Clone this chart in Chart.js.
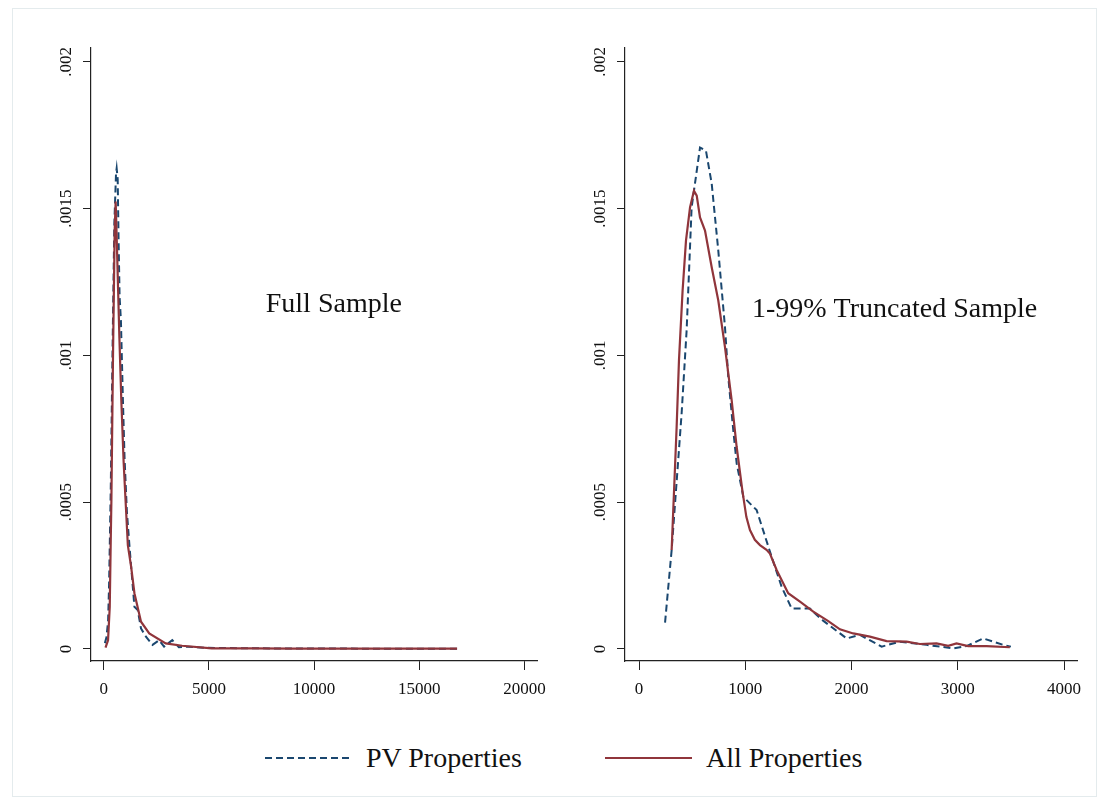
<!DOCTYPE html>
<html lang="en">
<head>
<meta charset="UTF-8">
<title>Kernel Density: PV vs All Properties</title>
<script src="https://cdn.jsdelivr.net/npm/chart.js@4.4.0/dist/chart.umd.min.js"></script>
<style>
  body { margin: 0; background: #fff; font-family: 'Liberation Serif', serif; }
  #frame { position: absolute; left: 12px; top: 8px; width: 1085px; height: 789px; border: 1px solid #e4ebed; box-sizing: border-box; }
  canvas { position: absolute; top: 0; }
  #leftChart { left: 0; }
  #rightChart { left: 555px; }
  .key { position: absolute; top: 740px; height: 36px; display: flex; align-items: center; font-size: 28px; color: #111; white-space: nowrap; }
  .key svg { margin-right: 14px; }
</style>
</head>
<body>
<div id="frame"></div>
<canvas id="leftChart" width="555" height="720"></canvas>
<canvas id="rightChart" width="554" height="720"></canvas>
<div class="key" style="left:265px">
  <svg width="87" height="6"><line x1="0" y1="3" x2="87" y2="3" stroke="#1a476f" stroke-width="2" stroke-dasharray="7 4"/></svg>PV Properties
</div>
<div class="key" style="left:605px">
  <svg width="87" height="6"><line x1="0" y1="3" x2="87" y2="3" stroke="#90353b" stroke-width="2.2"/></svg>All Properties
</div>

<script>
  // Full sample densities
  const fullPvX = [50, 125, 203, 250, 330, 420, 500, 580, 610, 660, 700, 750, 812, 907, 986, 1095, 1220, 1455, 1612, 1768, 2003, 2316, 2630, 2864, 3255, 3568, 4040, 4820, 6000, 8000, 10000, 12500, 15000, 16800];
  const fullPvY = [0.00002, 0.00004, 0.000095, 0.00022, 0.00055, 0.00105, 0.00145, 0.00162, 0.001637, 0.0016, 0.0014, 0.0012, 0.00112, 0.00085, 0.00065, 0.00047, 0.00035, 0.000144, 0.000133, 0.00007, 0.000042, 0.000014, 0.00003, 0.000008, 0.00003, 0.000006, 0.000008, 0.000004, 0.000003, 0.000002, 0.000002, 0.000001, 0.000001, 0.000001];
  const fullAllX = [80, 200, 282, 329, 360, 437, 516, 563, 620, 680, 740, 830, 940, 1033, 1142, 1299, 1455, 1768, 2160, 2942, 3720, 5130, 7000, 9000, 11000, 13000, 15000, 16800];
  const fullAllY = [0.000005, 0.00003, 0.000144, 0.00037, 0.000507, 0.001, 0.001425, 0.001524, 0.00138, 0.00122, 0.00106, 0.00085, 0.00064, 0.000507, 0.000354, 0.00028, 0.00019, 0.000093, 0.000053, 0.000019, 0.000011, 0.000002, 0.000002, 0.000001, 0.000001, 0.000001, 0.000001, 0.000001];

  // 1-99% truncated sample densities
  const truncPvX = [245, 307, 401, 448, 495, 574, 630, 684, 746, 809, 840, 887, 919, 982, 1107, 1248, 1342, 1436, 1608, 1720, 1954, 2079, 2283, 2455, 2706, 2957, 3083, 3239, 3427, 3500];
  const truncPvY = [0.00009, 0.000337, 0.000803, 0.001085, 0.001504, 0.001708, 0.001697, 0.001585, 0.001357, 0.001096, 0.000926, 0.000745, 0.000632, 0.000518, 0.000473, 0.000314, 0.000212, 0.000138, 0.000138, 0.0001, 0.000036, 0.000048, 0.000008, 0.000025, 0.000014, 0.000002, 0.00001, 0.000036, 0.000014, 0.000008];
  const truncAllX = [307, 354, 376, 410, 442, 480, 517, 543, 574, 621, 684, 746, 809, 872, 919, 972, 1010, 1044, 1090, 1138, 1200, 1232, 1295, 1404, 1515, 1640, 1781, 1891, 2016, 2173, 2330, 2518, 2643, 2800, 2910, 2988, 3098, 3271, 3490];
  const truncAllY = [0.000337, 0.000756, 0.000983, 0.00122, 0.001391, 0.001504, 0.001561, 0.001544, 0.00147, 0.001425, 0.0013, 0.001187, 0.001028, 0.000847, 0.000688, 0.000541, 0.00045, 0.000405, 0.000372, 0.000354, 0.000338, 0.000325, 0.000269, 0.00019, 0.000161, 0.000127, 0.000095, 0.000067, 0.000053, 0.000042, 0.000027, 0.000025, 0.000017, 0.000019, 0.000011, 0.000019, 0.00001, 0.00001, 0.000006];

  // tick labels
  const yTicks = [0, 0.0005, 0.001, 0.0015, 0.002];
  const yTickLabels = ['0', '.0005', '.001', '.0015', '.002'];
  const fullXTicks = [0, 5000, 10000, 15000, 20000];
  const truncXTicks = [0, 1000, 2000, 3000, 4000];

  const seriesNames = ['PV Properties', 'All Properties'];
  const navy = '#1a476f';
  const maroon = '#90353b';
  const tickFont = { family: 'Liberation Serif', size: 17 };

  const toPoints = (xs, ys) => xs.map((x, i) => ({ x: x, y: ys[i] }));

  // draws the panel caption inside the plot area
  const notePlugin = {
    id: 'note',
    afterDatasetsDraw(chart, args, opts) {
      const { ctx, scales } = chart;
      ctx.save();
      ctx.font = '28px "Liberation Serif"';
      ctx.fillStyle = '#111';
      ctx.textAlign = 'left';
      ctx.textBaseline = 'middle';
      ctx.fillText(opts.text, scales.x.getPixelForValue(opts.x), scales.y.getPixelForValue(opts.y));
      ctx.restore();
    }
  };

  function makeChart(id, pv, all, xTicks, xRange, axisWidth, padRight, note) {
    return new Chart(document.getElementById(id), {
      type: 'line',
      data: {
        datasets: [
          { label: seriesNames[0], data: pv, borderColor: navy, borderWidth: 2, borderDash: [7, 4], pointRadius: 0, tension: 0, order: 2 },
          { label: seriesNames[1], data: all, borderColor: maroon, borderWidth: 2.2, pointRadius: 0, tension: 0, order: 1 }
        ]
      },
      options: {
        responsive: false,
        animation: false,
        layout: { padding: { top: 48, right: padRight, left: 0, bottom: 0 } },
        plugins: { legend: { display: false }, tooltip: { enabled: false }, note: note },
        scales: {
          x: {
            type: 'linear',
            min: xRange[0],
            max: xRange[1],
            afterBuildTicks: s => { s.ticks = xTicks.map(v => ({ value: v })); },
            afterFit: s => { s.height = 59; },
            grid: { drawOnChartArea: false, drawTicks: true, tickLength: 9, color: '#222' },
            border: { display: true, color: '#222', width: 1.2 },
            ticks: { font: tickFont, color: '#111', padding: 9, maxRotation: 0, callback: v => String(v) }
          },
          y: {
            min: -0.0000409,
            max: 0.002047,
            afterBuildTicks: s => { s.ticks = yTicks.map(v => ({ value: v })); },
            afterFit: s => { s.width = axisWidth; },
            grid: { drawOnChartArea: false, drawTicks: true, tickLength: 8, color: '#222' },
            border: { display: true, color: '#222', width: 1.2 },
            ticks: {
              font: tickFont, color: '#111', padding: -3,
              minRotation: 90, maxRotation: 90, crossAlign: 'center',
              callback: v => yTickLabels[yTicks.indexOf(v)]
            }
          }
        }
      },
      plugins: [notePlugin]
    });
  }

  makeChart('leftChart', toPoints(fullPvX, fullPvY), toPoints(fullAllX, fullAllY),
    fullXTicks, [-610, 20610], 91, 12, { text: 'Full Sample', x: 7700, y: 0.001172 });
  makeChart('rightChart', toPoints(truncPvX, truncPvY), toPoints(truncAllX, truncAllY),
    truncXTicks, [-132, 4122], 70, 32, { text: '1-99% Truncated Sample', x: 1063, y: 0.001155 });
</script>
</body>
</html>
